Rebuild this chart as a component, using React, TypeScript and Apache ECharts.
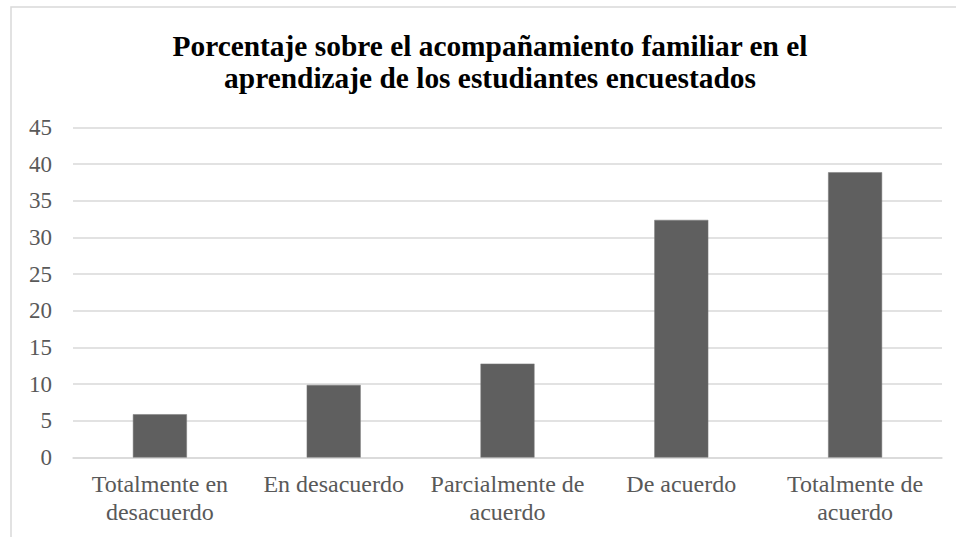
import React, { useEffect, useRef } from "react";
import * as echarts from "echarts";

const categories = [
  "Totalmente en\ndesacuerdo",
  "En desacuerdo",
  "Parcialmente de\nacuerdo",
  "De acuerdo",
  "Totalmente de\nacuerdo",
];
const values = [5.9, 9.9, 12.8, 32.4, 38.9];
const titleLines = [
  "Porcentaje sobre el acompañamiento familiar en el",
  "aprendizaje de los estudiantes encuestados",
];

const SERIF = "Liberation Serif";

export default function App() {
  const ref = useRef<HTMLDivElement>(null);
  useEffect(() => {
    if (!ref.current) return;
    const chart = echarts.init(ref.current, undefined, { renderer: "svg" });
    chart.setOption({
      animation: false,
      backgroundColor: "#ffffff",
      textStyle: { fontFamily: SERIF },
      graphic: [
        {
          type: "rect",
          shape: { x: 11, y: 7, width: 956, height: 600 },
          style: { fill: "none", stroke: "#d9d9d9", lineWidth: 1.5 },
          silent: true,
        },
        {
          type: "text",
          x: 490,
          y: 29.5,
          style: {
            text: titleLines.join("\n"),
            textAlign: "center",
            textVerticalAlign: "top",
            fontFamily: SERIF,
            fontWeight: "bold",
            fontSize: 29.4,
            lineHeight: 32,
            fill: "#000000",
          },
        },
      ],
      grid: { left: 73, right: 14, top: 127.5, bottom: 79.5, containLabel: false },
      xAxis: {
        type: "category",
        data: categories,
        axisLine: { show: true, lineStyle: { color: "#d9d9d9", width: 1.5 } },
        axisTick: { show: false },
        axisLabel: {
          color: "#595959",
          fontFamily: SERIF,
          fontSize: 24,
          lineHeight: 28,
          margin: 12,
          interval: 0,
        },
      },
      yAxis: {
        type: "value",
        min: 0,
        max: 45,
        interval: 5,
        axisLine: { show: false },
        axisTick: { show: false },
        splitLine: { lineStyle: { color: "#d9d9d9", width: 1.5 } },
        axisLabel: {
          color: "#595959",
          fontFamily: SERIF,
          fontSize: 23,
          margin: 21,
        },
      },
      series: [
        {
          type: "bar",
          data: values,
          barWidth: 54,
          itemStyle: { color: "#5f5f5f", borderColor: "#7a7a7a", borderWidth: 0.5 },
        },
      ],
    });
    return () => chart.dispose();
  }, []);
  return (
    <div
      ref={ref}
      style={{ position: "absolute", left: 0, top: 0, width: 956, height: 537 }}
    />
  );
}
